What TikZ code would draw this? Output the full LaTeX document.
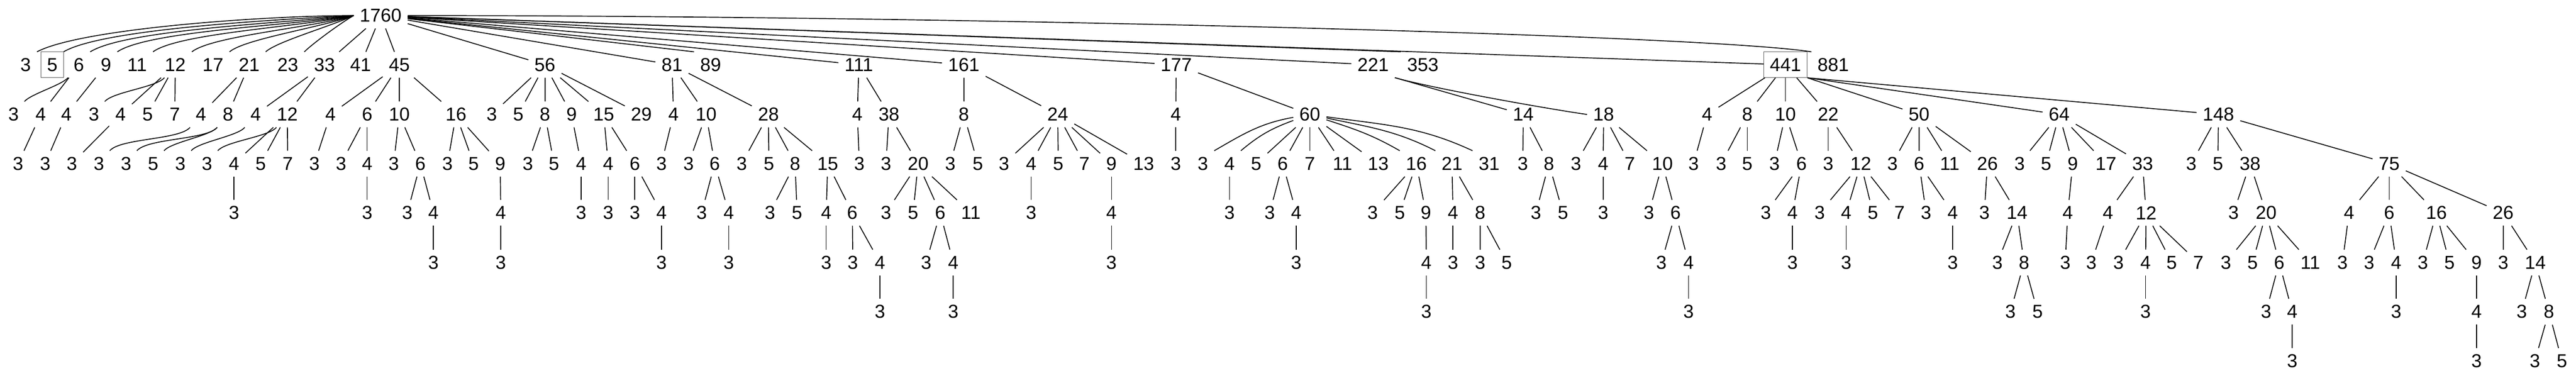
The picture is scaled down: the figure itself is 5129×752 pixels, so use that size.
\documentclass[tikz,border=0pt]{standalone}
\usepackage{fontspec}
\setmainfont{Liberation Sans}
\begin{document}
\begin{tikzpicture}[x=0.75pt,y=0.75pt,
    num/.style={font=\fontsize{28}{30}\selectfont,inner xsep=9pt,inner ysep=0pt,minimum height=38.25pt},
    boxed/.style={draw=black!65,line width=0.75pt},
    link/.style={line width=1.3pt},
    scurve/.style={out=-130,in=50,looseness=0.5}]
\useasboundingbox (0,0) rectangle (5129,752);

% Text Node: root
\node[num] (n1760) at (758,721) {1760};

% level 1
\foreach \v/\x in {3/51,6/157,9/211,11/273,12/349,17/424,21/496,23/573,33/646,41/718,45/795,56/1085,81/1338,89/1415,111/1710,161/1919,177/2342,221/2734,353/2833,881/3650}
  \node[num] (n\v) at (\x,623) {\v};
\node[num,boxed] (n5) at (104,623) {5};
\node[num,boxed] (n441) at (3555,623) {441};

% root edges
\foreach \v/\o/\a in {3/180/28,5/183/30,6/186/32,9/189/34,11/192/36,12/196/38,17/200/40,21/205/43,23/210/46}
  \draw[link] (n1760.west) to[out=\o,in=\a,out looseness=0.7,in looseness=0.4] (n\v.north east);
\foreach \v in {33,41,45,56,81,111,161,177,221,441}
  \draw[link] (n1760) -- (n\v);
\draw[link] (n1760) -- (n89.north west);
\draw[link] (n1760) -- (n353.north west);
\draw[link] (n1760.east) .. controls +(1093,0) and +(-216,34) .. (n881.north west);

% level 2
\foreach \v/\x in {3/27,4/81} \node[num] (n6-\v) at (\x,524) {\v};
\draw[link] (n6) to[scurve] (n6-3);
\draw[link] (n6) -- (n6-4);
\foreach \v/\x in {4/132}{\node[num] (n9-\v) at (\x,524) {\v}; \draw[link] (n9) -- (n9-\v);}
\foreach \v/\x in {3/187,4/240,5/294,7/348} \node[num] (n12-\v) at (\x,524) {\v};
\draw[link] (n12) to[scurve] (n12-3);
\foreach \v in {4,5,7} \draw[link] (n12) -- (n12-\v);
\foreach \v/\x in {4/400,8/454}{\node[num] (n21-\v) at (\x,524) {\v}; \draw[link] (n21) -- (n21-\v);}
\foreach \v/\x in {4/509,12/572}{\node[num] (n33-\v) at (\x,524) {\v}; \draw[link] (n33) -- (n33-\v);}
\foreach \v/\x in {4/658,6/731,10/795,16/908}{\node[num] (n45-\v) at (\x,524) {\v}; \draw[link] (n45) -- (n45-\v);}
\foreach \v/\x in {3/979,5/1032,8/1085,9/1138,15/1202,29/1277}{\node[num] (n56-\v) at (\x,524) {\v}; \draw[link] (n56) -- (n56-\v);}
\foreach \v/\x in {4/1341,10/1406,28/1530}{\node[num] (n81-\v) at (\x,524) {\v}; \draw[link] (n81) -- (n81-\v);}
\foreach \v/\x in {4/1707,38/1770}{\node[num] (n111-\v) at (\x,524) {\v}; \draw[link] (n111) -- (n111-\v);}
\foreach \v/\x in {8/1919,24/2106}{\node[num] (n161-\v) at (\x,524) {\v}; \draw[link] (n161) -- (n161-\v);}
\foreach \v/\x in {4/2341,60/2608}{\node[num] (n177-\v) at (\x,524) {\v}; \draw[link] (n177) -- (n177-\v);}
\foreach \v/\x in {14/3033,18/3193} \node[num] (n221-\v) at (\x,524) {\v};
\draw[link] (n221.south east) -- (n221-14);
\draw[link] (n221.south east) to[out=-16,in=172,looseness=0.5] (n221-18.west);
\foreach \v/\x in {4/3399,8/3479,10/3555,22/3640}{\node[num] (n441-\v) at (\x,524) {\v}; \draw[link] (n441) -- (n441-\v);}
\foreach \v/\x in {50/3821,64/4100,148/4417}{\node[num] (n441-\v) at (\x,524) {\v}; \draw[link] (n441.south east) -- (n441-\v);}

% level 3
\foreach \v/\x in {3/36}{\node[num] (n6-4-\v) at (\x,426) {\v}; \draw[link] (n6-4) -- (n6-4-\v);}
\foreach \v/\x in {3/90}{\node[num] (n9-4-\v) at (\x,426) {\v}; \draw[link] (n9-4) -- (n9-4-\v);}
\foreach \v/\x in {3/143}{\node[num] (n12-4-\v) at (\x,426) {\v}; \draw[link] (n12-4) -- (n12-4-\v);}
\foreach \v/\x in {3/197}{\node[num] (n21-4-\v) at (\x,426) {\v}; \draw[link] (n21-4) to[scurve] (n21-4-\v);}
\foreach \v/\x in {3/251,5/305}{\node[num] (n21-8-\v) at (\x,426) {\v}; \draw[link] (n21-8) to[scurve] (n21-8-\v);}
\foreach \v/\x in {3/359}{\node[num] (n33-4-\v) at (\x,426) {\v}; \draw[link] (n33-4) to[scurve] (n33-4-\v);}
\foreach \v/\x in {3/412,4/466,5/519,7/573} \node[num] (n33-12-\v) at (\x,426) {\v};
\draw[link] (n33-12) to[scurve] (n33-12-3);
\foreach \v in {4,5,7} \draw[link] (n33-12) -- (n33-12-\v);
\foreach \v/\x in {3/626}{\node[num] (n45-4-\v) at (\x,426) {\v}; \draw[link] (n45-4) -- (n45-4-\v);}
\foreach \v/\x in {3/679,4/731}{\node[num] (n45-6-\v) at (\x,426) {\v}; \draw[link] (n45-6) -- (n45-6-\v);}
\foreach \v/\x in {3/784,6/837}{\node[num] (n45-10-\v) at (\x,426) {\v}; \draw[link] (n45-10) -- (n45-10-\v);}
\foreach \v/\x in {3/891,5/943,9/996}{\node[num] (n45-16-\v) at (\x,426) {\v}; \draw[link] (n45-16) -- (n45-16-\v);}
\foreach \v/\x in {3/1051,5/1103}{\node[num] (n56-8-\v) at (\x,426) {\v}; \draw[link] (n56-8) -- (n56-8-\v);}
\foreach \v/\x in {4/1157}{\node[num] (n56-9-\v) at (\x,426) {\v}; \draw[link] (n56-9) -- (n56-9-\v);}
\foreach \v/\x in {4/1211,6/1264}{\node[num] (n56-15-\v) at (\x,426) {\v}; \draw[link] (n56-15) -- (n56-15-\v);}
\foreach \v/\x in {3/1317}{\node[num] (n81-4-\v) at (\x,426) {\v}; \draw[link] (n81-4) -- (n81-4-\v);}
\foreach \v/\x in {3/1371,6/1423}{\node[num] (n81-10-\v) at (\x,426) {\v}; \draw[link] (n81-10) -- (n81-10-\v);}
\foreach \v/\x in {3/1477,5/1531,8/1583,15/1648}{\node[num] (n81-28-\v) at (\x,426) {\v}; \draw[link] (n81-28) -- (n81-28-\v);}
\foreach \v/\x in {3/1711}{\node[num] (n111-4-\v) at (\x,426) {\v}; \draw[link] (n111-4) -- (n111-4-\v);}
\foreach \v/\x in {3/1764,20/1828}{\node[num] (n111-38-\v) at (\x,426) {\v}; \draw[link] (n111-38) -- (n111-38-\v);}
\foreach \v/\x in {3/1892,5/1947}{\node[num] (n161-8-\v) at (\x,426) {\v}; \draw[link] (n161-8) -- (n161-8-\v);}
\foreach \v/\x in {3/1999,4/2053,5/2107,7/2159,9/2213,13/2277}{\node[num] (n161-24-\v) at (\x,426) {\v}; \draw[link] (n161-24) -- (n161-24-\v);}
\foreach \v/\x in {3/2341}{\node[num] (n177-4-\v) at (\x,426) {\v}; \draw[link] (n177-4) -- (n177-4-\v);}
\foreach \v/\x in {3/2395,4/2448,5/2501,6/2554,7/2608,11/2673,13/2744,16/2820,21/2891,31/2965} \node[num] (n177-60-\v) at (\x,426) {\v};
\draw[link] (n177-60) to[out=190,in=30] (n177-60-3.north east);
\draw[link] (n177-60) to[out=200,in=40] (n177-60-4.north east);
\foreach \v in {5,6,7,11,13} \draw[link] (n177-60) -- (n177-60-\v);
\draw[link] (n177-60) to[out=-18,in=150] (n177-60-16.north west);
\draw[link] (n177-60) to[out=-12,in=153] (n177-60-21.north west);
\draw[link] (n177-60) to[out=-8,in=155] (n177-60-31.north west);
\foreach \v/\x in {3/3032,8/3084}{\node[num] (n221-14-\v) at (\x,426) {\v}; \draw[link] (n221-14) -- (n221-14-\v);}
\foreach \v/\x in {3/3138,4/3192,7/3245,10/3310}{\node[num] (n221-18-\v) at (\x,426) {\v}; \draw[link] (n221-18) -- (n221-18-\v);}
\foreach \v/\x in {3/3372}{\node[num] (n441-4-\v) at (\x,426) {\v}; \draw[link] (n441-4) -- (n441-4-\v);}
\foreach \v/\x in {3/3427,5/3479}{\node[num] (n441-8-\v) at (\x,426) {\v}; \draw[link] (n441-8) -- (n441-8-\v);}
\foreach \v/\x in {3/3533,6/3587}{\node[num] (n441-10-\v) at (\x,426) {\v}; \draw[link] (n441-10) -- (n441-10-\v);}
\foreach \v/\x in {3/3640,12/3705}{\node[num] (n441-22-\v) at (\x,426) {\v}; \draw[link] (n441-22) -- (n441-22-\v);}
\foreach \v/\x in {3/3768,6/3821,11/3882,26/3957}{\node[num] (n441-50-\v) at (\x,426) {\v}; \draw[link] (n441-50) -- (n441-50-\v);}
\foreach \v/\x in {3/4021,5/4074,9/4127,17/4193,33/4266}{\node[num] (n441-64-\v) at (\x,426) {\v}; \draw[link] (n441-64) -- (n441-64-\v);}
\foreach \v/\x in {3/4363,5/4416,38/4480,75/4757}{\node[num] (n441-148-\v) at (\x,426) {\v}; \draw[link] (n441-148) -- (n441-148-\v);}

% level 4
\foreach \v/\x in {3/466}{\node[num] (n33-12-4-\v) at (\x,328) {\v}; \draw[link] (n33-12-4) -- (n33-12-4-\v);}
\foreach \v/\x in {3/731}{\node[num] (n45-6-4-\v) at (\x,328) {\v}; \draw[link] (n45-6-4) -- (n45-6-4-\v);}
\foreach \v/\x in {3/811,4/863}{\node[num] (n45-10-6-\v) at (\x,328) {\v}; \draw[link] (n45-10-6) -- (n45-10-6-\v);}
\foreach \v/\x in {4/997}{\node[num] (n45-16-9-\v) at (\x,328) {\v}; \draw[link] (n45-16-9) -- (n45-16-9-\v);}
\foreach \v/\x in {3/1157}{\node[num] (n56-9-4-\v) at (\x,328) {\v}; \draw[link] (n56-9-4) -- (n56-9-4-\v);}
\foreach \v/\x in {3/1211}{\node[num] (n56-15-4-\v) at (\x,328) {\v}; \draw[link] (n56-15-4) -- (n56-15-4-\v);}
\foreach \v/\x in {3/1264,4/1317}{\node[num] (n56-15-6-\v) at (\x,328) {\v}; \draw[link] (n56-15-6) -- (n56-15-6-\v);}
\foreach \v/\x in {3/1397,4/1451}{\node[num] (n81-10-6-\v) at (\x,328) {\v}; \draw[link] (n81-10-6) -- (n81-10-6-\v);}
\foreach \v/\x in {3/1533,5/1587}{\node[num] (n81-28-8-\v) at (\x,328) {\v}; \draw[link] (n81-28-8) -- (n81-28-8-\v);}
\foreach \v/\x in {4/1645,6/1697}{\node[num] (n81-28-15-\v) at (\x,328) {\v}; \draw[link] (n81-28-15) -- (n81-28-15-\v);}
\foreach \v/\x in {3/1764,5/1818,6/1872,11/1933}{\node[num] (n111-38-20-\v) at (\x,328) {\v}; \draw[link] (n111-38-20) -- (n111-38-20-\v);}
\foreach \v/\x in {3/2053}{\node[num] (n161-24-4-\v) at (\x,328) {\v}; \draw[link] (n161-24-4) -- (n161-24-4-\v);}
\foreach \v/\x in {4/2213}{\node[num] (n161-24-9-\v) at (\x,328) {\v}; \draw[link] (n161-24-9) -- (n161-24-9-\v);}
\foreach \v/\x in {3/2448}{\node[num] (n177-60-4-\v) at (\x,328) {\v}; \draw[link] (n177-60-4) -- (n177-60-4-\v);}
\foreach \v/\x in {3/2528,4/2581}{\node[num] (n177-60-6-\v) at (\x,328) {\v}; \draw[link] (n177-60-6) -- (n177-60-6-\v);}
\foreach \v/\x in {3/2733,5/2787,9/2839}{\node[num] (n177-60-16-\v) at (\x,328) {\v}; \draw[link] (n177-60-16) -- (n177-60-16-\v);}
\foreach \v/\x in {4/2893,8/2947}{\node[num] (n177-60-21-\v) at (\x,328) {\v}; \draw[link] (n177-60-21) -- (n177-60-21-\v);}
\foreach \v/\x in {3/3058,5/3112}{\node[num] (n221-14-8-\v) at (\x,328) {\v}; \draw[link] (n221-14-8) -- (n221-14-8-\v);}
\foreach \v/\x in {3/3192}{\node[num] (n221-18-4-\v) at (\x,328) {\v}; \draw[link] (n221-18-4) -- (n221-18-4-\v);}
\foreach \v/\x in {3/3283,6/3336}{\node[num] (n221-18-10-\v) at (\x,328) {\v}; \draw[link] (n221-18-10) -- (n221-18-10-\v);}
\foreach \v/\x in {3/3516,4/3569}{\node[num] (n441-10-6-\v) at (\x,328) {\v}; \draw[link] (n441-10-6) -- (n441-10-6-\v);}
\foreach \v/\x in {3/3623,4/3676,5/3729,7/3782}{\node[num] (n441-22-12-\v) at (\x,328) {\v}; \draw[link] (n441-22-12) -- (n441-22-12-\v);}
\foreach \v/\x in {3/3835,4/3888}{\node[num] (n441-50-6-\v) at (\x,328) {\v}; \draw[link] (n441-50-6) -- (n441-50-6-\v);}
\foreach \v/\x in {3/3951,14/4016}{\node[num] (n441-50-26-\v) at (\x,328) {\v}; \draw[link] (n441-50-26) -- (n441-50-26-\v);}
\foreach \v/\x in {4/4117}{\node[num] (n441-64-9-\v) at (\x,328) {\v}; \draw[link] (n441-64-9) -- (n441-64-9-\v);}
\foreach \v/\x in {4/4197,12/4273}{\node[num] (n441-64-33-\v) at (\x,328) {\v}; \draw[link] (n441-64-33) -- (n441-64-33-\v);}
\foreach \v/\x in {3/4447,20/4512}{\node[num] (n441-148-38-\v) at (\x,328) {\v}; \draw[link] (n441-148-38) -- (n441-148-38-\v);}
\foreach \v/\x in {4/4677,6/4757,16/4851,26/4984}{\node[num] (n441-148-75-\v) at (\x,328) {\v}; \draw[link] (n441-148-75) -- (n441-148-75-\v);}

% level 5
\foreach \v/\x in {3/863}{\node[num] (n45-10-6-4-\v) at (\x,229) {\v}; \draw[link] (n45-10-6-4) -- (n45-10-6-4-\v);}
\foreach \v/\x in {3/997}{\node[num] (n45-16-9-4-\v) at (\x,229) {\v}; \draw[link] (n45-16-9-4) -- (n45-16-9-4-\v);}
\foreach \v/\x in {3/1317}{\node[num] (n56-15-6-4-\v) at (\x,229) {\v}; \draw[link] (n56-15-6-4) -- (n56-15-6-4-\v);}
\foreach \v/\x in {3/1451}{\node[num] (n81-10-6-4-\v) at (\x,229) {\v}; \draw[link] (n81-10-6-4) -- (n81-10-6-4-\v);}
\foreach \v/\x in {3/1645}{\node[num] (n81-28-15-4-\v) at (\x,229) {\v}; \draw[link] (n81-28-15-4) -- (n81-28-15-4-\v);}
\foreach \v/\x in {3/1698,4/1752}{\node[num] (n81-28-15-6-\v) at (\x,229) {\v}; \draw[link] (n81-28-15-6) -- (n81-28-15-6-\v);}
\foreach \v/\x in {3/1844,4/1898}{\node[num] (n111-38-20-6-\v) at (\x,229) {\v}; \draw[link] (n111-38-20-6) -- (n111-38-20-6-\v);}
\foreach \v/\x in {3/2213}{\node[num] (n161-24-9-4-\v) at (\x,229) {\v}; \draw[link] (n161-24-9-4) -- (n161-24-9-4-\v);}
\foreach \v/\x in {3/2581}{\node[num] (n177-60-6-4-\v) at (\x,229) {\v}; \draw[link] (n177-60-6-4) -- (n177-60-6-4-\v);}
\foreach \v/\x in {4/2840}{\node[num] (n177-60-16-9-\v) at (\x,229) {\v}; \draw[link] (n177-60-16-9) -- (n177-60-16-9-\v);}
\foreach \v/\x in {3/2893}{\node[num] (n177-60-21-4-\v) at (\x,229) {\v}; \draw[link] (n177-60-21-4) -- (n177-60-21-4-\v);}
\foreach \v/\x in {3/2947,5/3000}{\node[num] (n177-60-21-8-\v) at (\x,229) {\v}; \draw[link] (n177-60-21-8) -- (n177-60-21-8-\v);}
\foreach \v/\x in {3/3308,4/3362}{\node[num] (n221-18-10-6-\v) at (\x,229) {\v}; \draw[link] (n221-18-10-6) -- (n221-18-10-6-\v);}
\foreach \v/\x in {3/3569}{\node[num] (n441-10-6-4-\v) at (\x,229) {\v}; \draw[link] (n441-10-6-4) -- (n441-10-6-4-\v);}
\foreach \v/\x in {3/3676}{\node[num] (n441-22-12-4-\v) at (\x,229) {\v}; \draw[link] (n441-22-12-4) -- (n441-22-12-4-\v);}
\foreach \v/\x in {3/3888}{\node[num] (n441-50-6-4-\v) at (\x,229) {\v}; \draw[link] (n441-50-6-4) -- (n441-50-6-4-\v);}
\foreach \v/\x in {3/3977,8/4030}{\node[num] (n441-50-26-14-\v) at (\x,229) {\v}; \draw[link] (n441-50-26-14) -- (n441-50-26-14-\v);}
\foreach \v/\x in {3/4112}{\node[num] (n441-64-9-4-\v) at (\x,229) {\v}; \draw[link] (n441-64-9-4) -- (n441-64-9-4-\v);}
\foreach \v/\x in {3/4164}{\node[num] (n441-64-33-4-\v) at (\x,229) {\v}; \draw[link] (n441-64-33-4) -- (n441-64-33-4-\v);}
\foreach \v/\x in {3/4218,4/4272,5/4324,7/4377}{\node[num] (n441-64-33-12-\v) at (\x,229) {\v}; \draw[link] (n441-64-33-12) -- (n441-64-33-12-\v);}
\foreach \v/\x in {3/4432,5/4485,6/4538,11/4600}{\node[num] (n441-148-38-20-\v) at (\x,229) {\v}; \draw[link] (n441-148-38-20) -- (n441-148-38-20-\v);}
\foreach \v/\x in {3/4664}{\node[num] (n441-148-75-4-\v) at (\x,229) {\v}; \draw[link] (n441-148-75-4) -- (n441-148-75-4-\v);}
\foreach \v/\x in {3/4717,4/4771}{\node[num] (n441-148-75-6-\v) at (\x,229) {\v}; \draw[link] (n441-148-75-6) -- (n441-148-75-6-\v);}
\foreach \v/\x in {3/4824,5/4877,9/4931}{\node[num] (n441-148-75-16-\v) at (\x,229) {\v}; \draw[link] (n441-148-75-16) -- (n441-148-75-16-\v);}
\foreach \v/\x in {3/4984,14/5048}{\node[num] (n441-148-75-26-\v) at (\x,229) {\v}; \draw[link] (n441-148-75-26) -- (n441-148-75-26-\v);}

% level 6
\foreach \v/\x in {3/1752}{\node[num] (n81-28-15-6-4-\v) at (\x,131) {\v}; \draw[link] (n81-28-15-6-4) -- (n81-28-15-6-4-\v);}
\foreach \v/\x in {3/1898}{\node[num] (n111-38-20-6-4-\v) at (\x,131) {\v}; \draw[link] (n111-38-20-6-4) -- (n111-38-20-6-4-\v);}
\foreach \v/\x in {3/2840}{\node[num] (n177-60-16-9-4-\v) at (\x,131) {\v}; \draw[link] (n177-60-16-9-4) -- (n177-60-16-9-4-\v);}
\foreach \v/\x in {3/3362}{\node[num] (n221-18-10-6-4-\v) at (\x,131) {\v}; \draw[link] (n221-18-10-6-4) -- (n221-18-10-6-4-\v);}
\foreach \v/\x in {3/4003,5/4057}{\node[num] (n441-50-26-14-8-\v) at (\x,131) {\v}; \draw[link] (n441-50-26-14-8) -- (n441-50-26-14-8-\v);}
\foreach \v/\x in {3/4272}{\node[num] (n441-64-33-12-4-\v) at (\x,131) {\v}; \draw[link] (n441-64-33-12-4) -- (n441-64-33-12-4-\v);}
\foreach \v/\x in {3/4512,4/4564}{\node[num] (n441-148-38-20-6-\v) at (\x,131) {\v}; \draw[link] (n441-148-38-20-6) -- (n441-148-38-20-6-\v);}
\foreach \v/\x in {3/4771}{\node[num] (n441-148-75-6-4-\v) at (\x,131) {\v}; \draw[link] (n441-148-75-6-4) -- (n441-148-75-6-4-\v);}
\foreach \v/\x in {4/4931}{\node[num] (n441-148-75-16-9-\v) at (\x,131) {\v}; \draw[link] (n441-148-75-16-9) -- (n441-148-75-16-9-\v);}
\foreach \v/\x in {3/5021,8/5075}{\node[num] (n441-148-75-26-14-\v) at (\x,131) {\v}; \draw[link] (n441-148-75-26-14) -- (n441-148-75-26-14-\v);}

% level 7
\foreach \v/\x in {3/4564}{\node[num] (n441-148-38-20-6-4-\v) at (\x,33) {\v}; \draw[link] (n441-148-38-20-6-4) -- (n441-148-38-20-6-4-\v);}
\foreach \v/\x in {3/4931}{\node[num] (n441-148-75-16-9-4-\v) at (\x,33) {\v}; \draw[link] (n441-148-75-16-9-4) -- (n441-148-75-16-9-4-\v);}
\foreach \v/\x in {3/5047,5/5101}{\node[num] (n441-148-75-26-14-8-\v) at (\x,33) {\v}; \draw[link] (n441-148-75-26-14-8) -- (n441-148-75-26-14-8-\v);}

\end{tikzpicture}
\end{document}
